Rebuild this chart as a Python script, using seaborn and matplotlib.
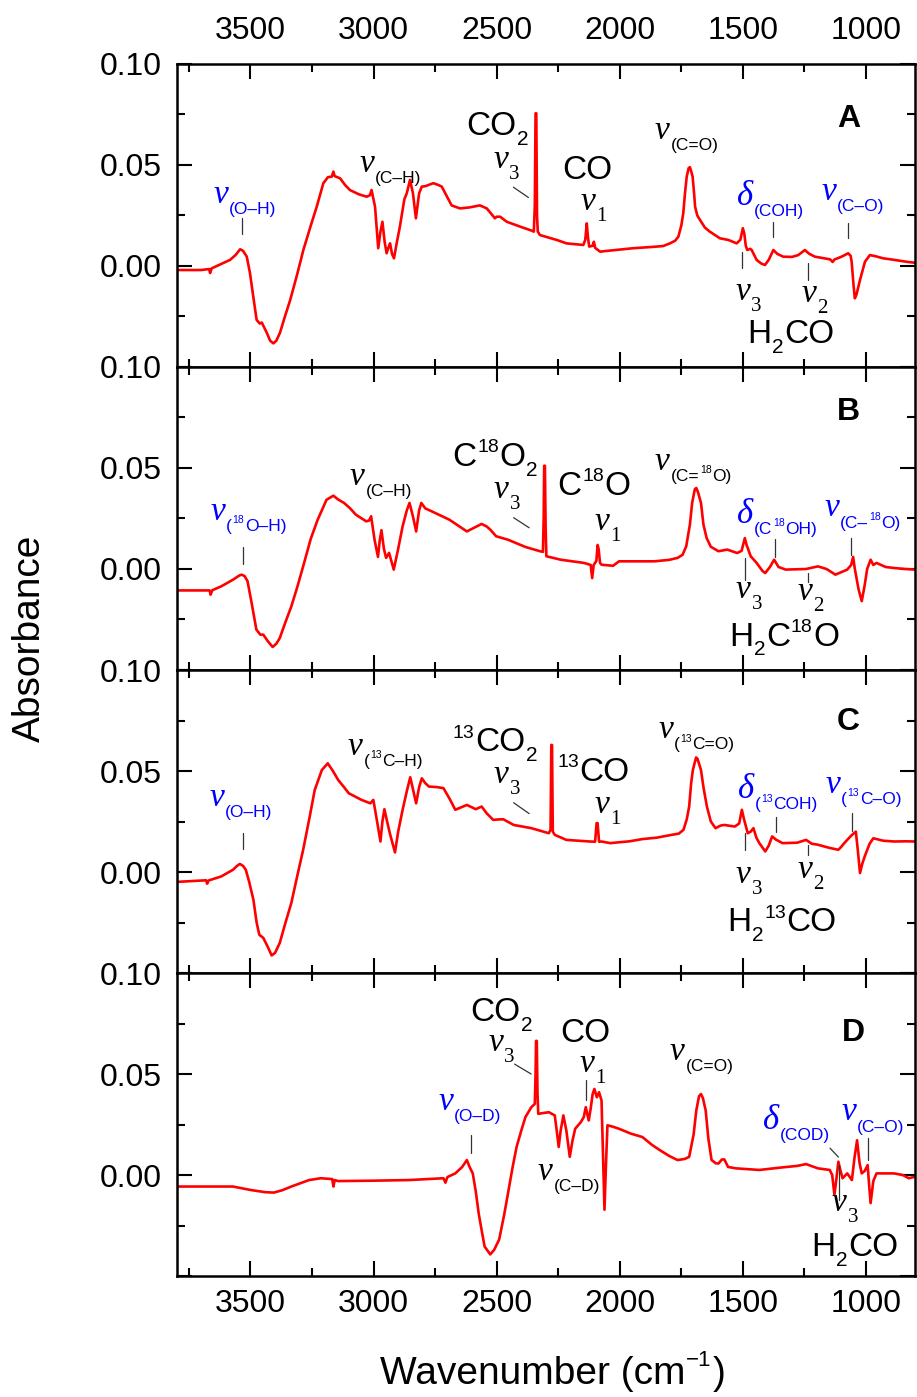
import numpy as np
import pandas as pd
import matplotlib
matplotlib.use("Agg")
import matplotlib.pyplot as plt
from matplotlib.ticker import MultipleLocator, FixedLocator
import seaborn as sns

# ---------------------------------------------------------------- data
wn_A = [3800, 3700, 3668, 3664, 3658, 3637, 3610, 3583, 3560, 3542, 3530, 3515, 3502, 3490, 3475,
        3462, 3454, 3434, 3420, 3407, 3395, 3380, 3360, 3339, 3310, 3285, 3255, 3231, 3204, 3185,
        3170, 3163, 3158, 3136, 3115, 3096, 3060, 3028, 3015, 3008, 2994, 2981, 2972, 2964, 2955,
        2947, 2940, 2933, 2925, 2917, 2905, 2893, 2875, 2865, 2852, 2840, 2828, 2815, 2804, 2790,
        2757, 2735, 2723, 2700, 2683, 2649, 2610, 2568, 2540, 2507, 2500, 2486, 2459, 2405, 2358,
        2349, 2345, 2342, 2339, 2336, 2333, 2324, 2256, 2216, 2148, 2140, 2134, 2129, 2124, 2110,
        2105, 2100, 2080, 2050, 1945, 1860, 1823, 1796, 1775, 1762, 1750, 1742, 1735, 1728, 1720,
        1715, 1710, 1704, 1698, 1694, 1685, 1674, 1654, 1634, 1593, 1559, 1525, 1510, 1500, 1494,
        1488, 1482, 1470, 1464, 1444, 1425, 1410, 1395, 1376, 1360, 1336, 1300, 1275, 1248, 1230,
        1207, 1146, 1135, 1128, 1099, 1072, 1062, 1058, 1050, 1045, 1038, 1024, 1004, 984, 960,
        930, 900, 862, 830, 800]
abs_A = [-0.0020, -0.0020, -0.0015, -0.0035, -0.0012, 0.0000, 0.0015, 0.0030, 0.0055, 0.0083, 0.0075,
         0.0046, -0.0035, -0.0140, -0.0267, -0.0285, -0.0280, -0.0330, -0.0370, -0.0383, -0.0370,
         -0.0330, -0.0250, -0.0170, -0.0040, 0.0080, 0.0200, 0.0293, 0.0410, 0.0440, 0.0442, 0.0467,
         0.0445, 0.0434, 0.0400, 0.0376, 0.0355, 0.0343, 0.0350, 0.0376, 0.0293, 0.0088, 0.0170,
         0.0219, 0.0120, 0.0063, 0.0090, 0.0112, 0.0060, 0.0038, 0.0120, 0.0195, 0.0330, 0.0360,
         0.0426, 0.0360, 0.0236, 0.0360, 0.0393, 0.0395, 0.0410, 0.0400, 0.0393, 0.0340, 0.0300,
         0.0285, 0.0290, 0.0300, 0.0285, 0.0236, 0.0244, 0.0244, 0.0219, 0.0195, 0.0175, 0.0170,
         0.0300, 0.0756, 0.0756, 0.0250, 0.0170, 0.0153, 0.0129, 0.0112, 0.0104, 0.0130, 0.0211,
         0.0140, 0.0096, 0.0100, 0.0120, 0.0090, 0.0071, 0.0075, 0.0088, 0.0095, 0.0099, 0.0112,
         0.0125, 0.0145, 0.0200, 0.0260, 0.0360, 0.0442, 0.0485, 0.0489, 0.0470, 0.0442, 0.0360,
         0.0294, 0.0250, 0.0228, 0.0190, 0.0170, 0.0137, 0.0129, 0.0112, 0.0130, 0.0187, 0.0160,
         0.0100, 0.0079, 0.0085, 0.0079, 0.0030, 0.0012, 0.0005, 0.0030, 0.0079, 0.0060, 0.0046,
         0.0045, 0.0054, 0.0079, 0.0060, 0.0046, 0.0033, 0.0020, 0.0032, 0.0046, 0.0063, 0.0050,
         0.0021, -0.0100, -0.0160, -0.0140, -0.0069, 0.0021, 0.0054, 0.0048, 0.0038, 0.0033, 0.0026,
         0.0020, 0.0016]

wn_B = [3800, 3666, 3662, 3655, 3619, 3571, 3545, 3536, 3524, 3512, 3495, 3476, 3460, 3448, 3429,
        3410, 3395, 3381, 3360, 3334, 3310, 3286, 3255, 3227, 3191, 3163, 3145, 3120, 3095, 3072,
        3030, 3018, 3010, 2996, 2982, 2975, 2968, 2958, 2949, 2937, 2928, 2918, 2900, 2882, 2865,
        2854, 2840, 2827, 2815, 2806, 2790, 2763, 2692, 2621, 2590, 2561, 2540, 2526, 2502, 2454,
        2383, 2324, 2312, 2309, 2307, 2304, 2301, 2298, 2240, 2145, 2118, 2112, 2106, 2095, 2090,
        2086, 2080, 2074, 2027, 2003, 1860, 1800, 1765, 1745, 1730, 1715, 1706, 1695, 1689, 1682,
        1670, 1660, 1647, 1630, 1599, 1563, 1523, 1505, 1492, 1485, 1468, 1444, 1420, 1409, 1390,
        1373, 1355, 1326, 1243, 1195, 1160, 1124, 1090, 1076, 1060, 1052, 1045, 1030, 1017, 1005,
        995, 981, 970, 957, 920, 886, 840, 800]
abs_B = [-0.0106, -0.0106, -0.0127, -0.0105, -0.0086, -0.0053, -0.0032, -0.0028, -0.0035, -0.0060,
         -0.0170, -0.0300, -0.0325, -0.0325, -0.0358, -0.0386, -0.0370, -0.0342, -0.0270, -0.0185,
         -0.0090, 0.0013, 0.0150, 0.0244, 0.0343, 0.0363, 0.0345, 0.0327, 0.0300, 0.0269, 0.0236,
         0.0240, 0.0261, 0.0145, 0.0060, 0.0140, 0.0192, 0.0100, 0.0055, 0.0080, 0.0040, -0.0003,
         0.0100, 0.0211, 0.0290, 0.0327, 0.0260, 0.0186, 0.0290, 0.0327, 0.0300, 0.0285, 0.0244,
         0.0186, 0.0205, 0.0223, 0.0210, 0.0195, 0.0162, 0.0145, 0.0109, 0.0088, 0.0085, 0.0250,
         0.0511, 0.0511, 0.0200, 0.0063, 0.0046, 0.0030, 0.0020, -0.0045, 0.0020, 0.0040, 0.0119,
         0.0100, 0.0030, 0.0021, 0.0016, 0.0038, 0.0038, 0.0045, 0.0055, 0.0070, 0.0112, 0.0220,
         0.0327, 0.0395, 0.0401, 0.0380, 0.0327, 0.0220, 0.0153, 0.0110, 0.0088, 0.0096, 0.0079,
         0.0090, 0.0153, 0.0120, 0.0063, 0.0030, -0.0010, -0.0020, 0.0010, 0.0046, 0.0010, -0.0003,
         0.0000, 0.0013, 0.0000, -0.0028, -0.0010, -0.0003, 0.0020, 0.0060, 0.0000, -0.0100,
         -0.0159, -0.0080, 0.0000, 0.0046, 0.0020, 0.0030, 0.0010, 0.0005, 0.0000, -0.0003]

wn_C = [3800, 3680, 3676, 3670, 3619, 3571, 3555, 3543, 3530, 3519, 3505, 3488, 3475, 3464, 3448,
        3430, 3414, 3400, 3381, 3360, 3334, 3310, 3286, 3260, 3239, 3210, 3186, 3165, 3144, 3120,
        3101, 3070, 3049, 3013, 3001, 2989, 2972, 2964, 2956, 2945, 2934, 2913, 2900, 2882, 2865,
        2851, 2840, 2827, 2815, 2804, 2790, 2775, 2740, 2716, 2690, 2668, 2645, 2621, 2585, 2561,
        2540, 2514, 2495, 2473, 2431, 2359, 2288, 2281, 2278, 2275, 2272, 2264, 2217, 2122, 2100,
        2094, 2090, 2084, 2074, 2039, 1960, 1908, 1850, 1789, 1760, 1741, 1728, 1718, 1710, 1703,
        1690, 1684, 1670, 1660, 1646, 1630, 1611, 1590, 1575, 1533, 1515, 1504, 1495, 1480, 1468,
        1457, 1445, 1433, 1409, 1395, 1381, 1365, 1339, 1280, 1243, 1220, 1195, 1150, 1112, 1100,
        1088, 1060, 1041, 1034, 1024, 1015, 1005, 985, 970, 930, 886, 840, 800]
abs_C = [-0.0049, -0.0041, -0.0058, -0.0042, -0.0022, 0.0011, 0.0030, 0.0040, 0.0030, 0.0011,
         -0.0050, -0.0138, -0.0250, -0.0311, -0.0326, -0.0370, -0.0413, -0.0400, -0.0351, -0.0260,
         -0.0153, -0.0020, 0.0110, 0.0270, 0.0406, 0.0505, 0.0538, 0.0500, 0.0456, 0.0420, 0.0390,
         0.0370, 0.0357, 0.0340, 0.0357, 0.0274, 0.0151, 0.0250, 0.0311, 0.0250, 0.0192, 0.0097,
         0.0200, 0.0308, 0.0400, 0.0469, 0.0410, 0.0340, 0.0420, 0.0464, 0.0440, 0.0423, 0.0420,
         0.0415, 0.0360, 0.0308, 0.0320, 0.0332, 0.0311, 0.0324, 0.0290, 0.0258, 0.0260, 0.0261,
         0.0233, 0.0217, 0.0192, 0.0210, 0.0629, 0.0629, 0.0200, 0.0184, 0.0159, 0.0151, 0.0150,
         0.0242, 0.0242, 0.0150, 0.0151, 0.0143, 0.0152, 0.0163, 0.0170, 0.0184, 0.0190, 0.0209,
         0.0260, 0.0324, 0.0440, 0.0505, 0.0567, 0.0560, 0.0505, 0.0420, 0.0324, 0.0250, 0.0217,
         0.0230, 0.0233, 0.0225, 0.0240, 0.0308, 0.0260, 0.0192, 0.0200, 0.0217, 0.0170, 0.0143,
         0.0102, 0.0130, 0.0176, 0.0160, 0.0143, 0.0145, 0.0159, 0.0140, 0.0135, 0.0120, 0.0110,
         0.0125, 0.0143, 0.0180, 0.0200, 0.0120, -0.0005, 0.0040, 0.0077, 0.0140, 0.0167, 0.0155,
         0.0151, 0.0152, 0.0151]

wn_D = [3800, 3571, 3500, 3440, 3405, 3370, 3334, 3262, 3215, 3168, 3163, 3158, 3144, 3000, 2858,
        2716, 2708, 2700, 2668, 2640, 2621, 2610, 2597, 2585, 2573, 2560, 2549, 2526, 2510, 2490,
        2470, 2454, 2435, 2419, 2400, 2383, 2359, 2345, 2342, 2340, 2337, 2334, 2331, 2288, 2264,
        2256, 2248, 2240, 2229, 2217, 2203, 2192, 2181, 2158, 2146, 2138, 2126, 2118, 2110, 2103,
        2093, 2084, 2074, 2068, 2062, 2056, 2050, 2030, 2003, 1955, 1908, 1870, 1837, 1800, 1765,
        1735, 1718, 1700, 1689, 1678, 1670, 1662, 1651, 1640, 1627, 1610, 1599, 1585, 1575, 1560,
        1528, 1433, 1338, 1280, 1243, 1195, 1147, 1137, 1128, 1120, 1112, 1103, 1095, 1076, 1057,
        1047, 1036, 1026, 1017, 1005, 993, 987, 981, 970, 957, 886, 850, 826, 800]
abs_D = [-0.0057, -0.0057, -0.0074, -0.0085, -0.0087, -0.0075, -0.0057, -0.0025, -0.0016, -0.0020,
         -0.0057, -0.0025, -0.0030, -0.0028, -0.0025, -0.0016, -0.0038, -0.0010, 0.0008, 0.0040,
         0.0074, 0.0040, 0.0008, -0.0080, -0.0190, -0.0280, -0.0354, -0.0393, -0.0370, -0.0320,
         -0.0200, -0.0091, 0.0040, 0.0139, 0.0220, 0.0287, 0.0336, 0.0352, 0.0500, 0.0664, 0.0664,
         0.0400, 0.0303, 0.0311, 0.0295, 0.0220, 0.0139, 0.0220, 0.0295, 0.0221, 0.0090, 0.0170,
         0.0229, 0.0262, 0.0287, 0.0336, 0.0270, 0.0330, 0.0401, 0.0426, 0.0385, 0.0410, 0.0369,
         0.0100, -0.0172, 0.0050, 0.0246, 0.0240, 0.0229, 0.0205, 0.0188, 0.0150, 0.0123, 0.0095,
         0.0074, 0.0080, 0.0090, 0.0200, 0.0320, 0.0390, 0.0401, 0.0380, 0.0320, 0.0180, 0.0074,
         0.0058, 0.0057, 0.0077, 0.0077, 0.0040, 0.0033, 0.0025, 0.0038, 0.0045, 0.0054, 0.0033,
         0.0025, 0.0000, -0.0098, -0.0020, 0.0066, 0.0020, -0.0016, 0.0008, -0.0025, 0.0080,
         0.0172, 0.0060, 0.0008, 0.0020, 0.0049, -0.0050, -0.0139, -0.0030, 0.0008, 0.0008, 0.0000,
         -0.0016, -0.0008]

panel_letters = ["A", "B", "C", "D"]
x_major = [3500, 3000, 2500, 2000, 1500, 1000]
y_major = [-0.05, 0.00, 0.05, 0.10]
y_labels = ["", "0.00", "0.05", "0.10"]

# ---------------------------------------------------------------- style
sns.set_theme(style="ticks")
SANS = "Liberation Sans"
SERIF = "Liberation Serif"
plt.rcParams["font.family"] = [SANS, "DejaVu Sans"]
for key in ("text.color", "axes.labelcolor", "xtick.color", "ytick.color", "axes.edgecolor"):
    plt.rcParams[key] = "black"
RED = "#ff0000"
BLUE = "#0000ff"
TICK_FS = 23
BIG = 24

fig, axes = plt.subplots(4, 1, sharex=True, figsize=(9.17, 13.97), dpi=100)
fig.subplots_adjust(left=0.1926, right=0.998, top=0.9542, bottom=0.0866, hspace=0)

spectra = [(wn_A, abs_A), (wn_B, abs_B), (wn_C, abs_C), (wn_D, abs_D)]
for ax, (wn, ab), letter in zip(axes, spectra, panel_letters):
    df = pd.DataFrame({"wn": wn, "abs": ab})
    sns.lineplot(data=df, x="wn", y="abs", ax=ax, color=RED, linewidth=1.9,
                 sort=False, estimator=None)
    ax.set_xlim(3800, 800)
    ax.set_ylim(-0.05, 0.10)
    ax.set_xlabel("")
    ax.set_ylabel("")
    ax.xaxis.set_major_locator(FixedLocator(x_major))
    ax.xaxis.set_minor_locator(MultipleLocator(250))
    ax.yaxis.set_major_locator(FixedLocator(y_major))
    ax.yaxis.set_minor_locator(MultipleLocator(0.025))
    ax.set_yticklabels(y_labels)
    ax.tick_params(which="both", direction="in", top=True, right=True, width=1.5,
                   labelsize=TICK_FS, colors="black")
    ax.tick_params(which="major", length=11)
    ax.tick_params(which="minor", length=6)
    ax.tick_params(axis="y", pad=11)
    ax.tick_params(axis="x", pad=9)
    for sp in ax.spines.values():
        sp.set_linewidth(1.8)
        sp.set_color("black")
    for lab in ax.get_yticklabels():
        lab.set_fontfamily(SANS)

axes[-1].set_xticks(x_major)
axes[-1].set_xticklabels([str(v) for v in x_major])

# top wavenumber labels on the first panel
top = axes[0].secondary_xaxis("top")
top.set_xticks(x_major)
top.set_xticklabels([str(v) for v in x_major])
top.tick_params(length=0, pad=13, labelsize=TICK_FS, colors="black")
top.spines["top"].set_visible(False)


# ---------------------------------------------------------------- rich labels
def rich(ax, x, y, parts, color="black", coords="data", weight="normal"):
    """Chain text pieces left to right on a common baseline.
    parts: (text, size, family, style, dy in points)."""
    prev = None
    for text, size, fam, style, dy in parts:
        kw = dict(fontsize=size, family=fam, style=style, color=color, weight=weight,
                  va="baseline", ha="left", textcoords="offset points",
                  annotation_clip=False)
        if prev is None:
            prev = ax.annotate(text, xy=(x, y), xycoords=coords, xytext=(0, dy), **kw)
        else:
            prev = ax.annotate(text, xy=(1, y), xycoords=(prev, coords), xytext=(0.5, dy), **kw)
    return prev


def N(t, size=BIG):           # normal sans piece
    return (t, size, SANS, "normal", 0)


def Sb(t, size=12.5, dy=-8):  # sans subscript
    return (t, size, SANS, "normal", dy)


def Sp(t, size=14, dy=10):    # sans superscript
    return (t, size, SANS, "normal", dy)


def SS(t):                    # superscript inside a subscript
    return (t, 7.5, SANS, "normal", -2.5)


NU = ("ν", 24, SERIF, "italic", 0)
DELTA = ("δ", 25, SERIF, "italic", 0)


def NUm(d):                   # mode index, serif subscript
    return (d, 15, SERIF, "normal", -8)


def two():                    # formula subscript 2
    return ("2", 15, SANS, "normal", -7)


def tick_line(ax, x, y0, y1, x1=None):
    ax.plot([x, x if x1 is None else x1], [y0, y1], color="#333333", lw=0.9)


# Panel A
ax = axes[0]
rich(ax, 3652, 0.0312, [NU, Sb("(O–H)")], BLUE)
tick_line(ax, 3534, 0.0238, 0.0158)
rich(ax, 3058, 0.0467, [NU, Sb("(C–H)")])
rich(ax, 2622, 0.0649, [N("CO"), two()])
rich(ax, 2513, 0.0484, [NU, NUm("3")])
tick_line(ax, 2432, 0.0390, 0.0339, 2371)
rich(ax, 2232, 0.0429, [N("CO")])
rich(ax, 2161, 0.0277, [NU, NUm("1")])
rich(ax, 1857, 0.0627, [NU, Sb("(C=O)")])
rich(ax, 1525, 0.0302, [DELTA, Sb("(COH)")], BLUE)
tick_line(ax, 1377, 0.0219, 0.0145)
rich(ax, 1180, 0.0327, [NU, Sb("(C–O)")], BLUE)
tick_line(ax, 1073, 0.0213, 0.0139)
rich(ax, 1531, -0.0168, [NU, NUm("3")])
tick_line(ax, 1505, 0.0069, -0.0010)
rich(ax, 1261, -0.0177, [NU, NUm("2")])
tick_line(ax, 1237, 0.0015, -0.0069)
rich(ax, 1482, -0.0383, [N("H"), two(), N("CO")])

# Panel B
ax = axes[1]
rich(ax, 3664, 0.0244, [NU, Sb("("), SS("18"), Sb("O–H)")], BLUE)
tick_line(ax, 3530, 0.0110, 0.0026)
rich(ax, 3096, 0.0417, [NU, Sb("(C–H)")])
rich(ax, 2680, 0.0508, [N("C"), Sp("18"), N("O"), two()])
rich(ax, 2511, 0.0351, [NU, NUm("3")])
tick_line(ax, 2431, 0.0254, 0.0204, 2368)
rich(ax, 2254, 0.0368, [N("C"), Sp("18"), N("O")])
rich(ax, 2104, 0.0195, [NU, NUm("1")])
rich(ax, 1857, 0.0492, [NU, Sb("(C="), SS("18"), Sb("O)")])
rich(ax, 1524, 0.0228, [DELTA, Sb("(C"), SS("18"), Sb("OH)")], BLUE)
tick_line(ax, 1369, 0.0150, 0.0061)
rich(ax, 1168, 0.0260, [NU, Sb("(C–"), SS("18"), Sb("O)")], BLUE)
tick_line(ax, 1059, 0.0155, 0.0071)
rich(ax, 1528, -0.0144, [NU, NUm("3")])
tick_line(ax, 1492, 0.0056, -0.0053)
rich(ax, 1276, -0.0152, [NU, NUm("2")])
tick_line(ax, 1236, -0.0018, -0.0063)
rich(ax, 1556, -0.0380, [N("H"), two(), N("C"), Sp("18"), N("O")])

# Panel C
ax = axes[2]
rich(ax, 3668, 0.0325, [NU, Sb("(O–H)")], BLUE)
tick_line(ax, 3530, 0.0195, 0.0116)
rich(ax, 3104, 0.0580, [NU, Sb("("), SS("13"), Sb("C–H)")])
rich(ax, 2680, 0.0597, [Sp("13"), N("CO"), two()])
rich(ax, 2511, 0.0440, [NU, NUm("3")])
tick_line(ax, 2431, 0.0343, 0.0289, 2368)
rich(ax, 2254, 0.0449, [Sp("13"), N("CO")])
rich(ax, 2104, 0.0292, [NU, NUm("1")])
rich(ax, 1844, 0.0663, [NU, Sb("("), SS("13"), Sb("C=O)")])
rich(ax, 1520, 0.0366, [DELTA, Sb("("), SS("13"), Sb("COH)")], BLUE)
tick_line(ax, 1365, 0.0274, 0.0200)
rich(ax, 1164, 0.0391, [NU, Sb("("), SS("13"), Sb("C–O)")], BLUE)
tick_line(ax, 1055, 0.0294, 0.0204)
rich(ax, 1528, -0.0054, [NU, NUm("3")])
tick_line(ax, 1492, 0.0195, 0.0111)
rich(ax, 1276, -0.0030, [NU, NUm("2")])
tick_line(ax, 1236, 0.0135, 0.0086)
rich(ax, 1564, -0.0294, [N("H"), two(), Sp("13"), N("CO")])

# Panel D
ax = axes[3]
rich(ax, 2608, 0.0762, [N("CO"), two()])
rich(ax, 2534, 0.0614, [NU, NUm("3")])
tick_line(ax, 2427, 0.0549, 0.0500, 2360)
rich(ax, 2241, 0.0660, [N("CO")])
rich(ax, 2165, 0.0511, [NU, NUm("1")])
tick_line(ax, 2137, 0.0470, 0.0371)
rich(ax, 1796, 0.0569, [NU, Sb("(C=O)")])
rich(ax, 2738, 0.0322, [NU, Sb("(O–D)")], BLUE)
tick_line(ax, 2606, 0.0198, 0.0109)
rich(ax, 2332, -0.0025, [NU, Sb("(C–D)")])
rich(ax, 1418, 0.0230, [DELTA, Sb("(COD)")], BLUE)
tick_line(ax, 1146, 0.0133, 0.0089, 1112)
rich(ax, 1101, 0.0270, [NU, Sb("(C–O)")], BLUE)
tick_line(ax, 991, 0.0182, 0.0074)
rich(ax, 1138, -0.0180, [NU, NUm("3")])
tick_line(ax, 1110, 0.0049, -0.0123)
rich(ax, 1223, -0.0402, [N("H"), two(), N("CO")])

# panel letters
letter_pos = [(1118, 0.0690), (1118, 0.0739), (1118, 0.0705), (1097, 0.0664)]
for ax, letter, (lx, ly) in zip(axes, panel_letters, letter_pos):
    ax.text(lx, ly, letter, fontsize=23, weight="bold", family=SANS, va="baseline", ha="left")

# axis titles
fig.text(30 / 917, 1 - 638 / 1397, "Absorbance", rotation=90, va="center", ha="center",
         fontsize=28, family=SANS)
rich(axes[-1], 380 / 917, 1 - 1384 / 1397,
     [N("Wavenumber (cm", 28), Sp("−1", 16, 13), N(")", 28)], coords="figure fraction")

fig.savefig("out.png", dpi=100)
